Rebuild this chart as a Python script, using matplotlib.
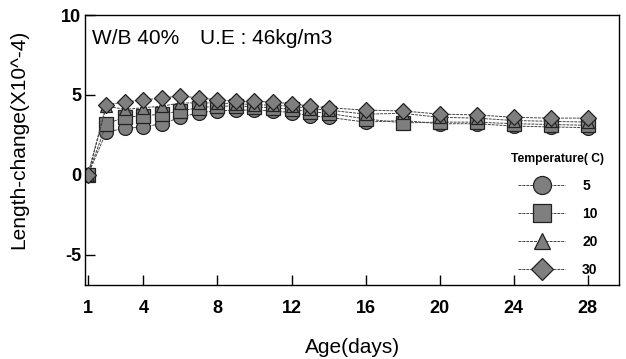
import matplotlib.pyplot as plt

plt.rcParams['font.family'] = ['Liberation Sans', 'DejaVu Sans']
plt.rcParams['axes.unicode_minus'] = False

days = [1, 2, 3, 4, 5, 6, 7, 8, 9, 10, 11, 12, 13, 14, 16, 18, 20, 22, 24, 26, 28]
t5 = [0, 2.7, 2.9, 3.0, 3.2, 3.6, 3.9, 4.0, 4.05, 4.05, 4.0, 3.9, 3.7, 3.6,
      3.3, 3.4, 3.2, 3.2, 3.05, 3.0, 2.95]
t10 = [0, 3.2, 3.6, 3.7, 3.8, 4.0, 4.2, 4.3, 4.3, 4.25, 4.2, 4.1, 3.95, 3.85,
       3.5, 3.25, 3.3, 3.3, 3.2, 3.15, 3.1]
t20 = [0, 4.3, 4.1, 4.2, 4.3, 4.5, 4.5, 4.5, 4.45, 4.4, 4.35, 4.3, 4.15, 4.05,
       3.8, 3.85, 3.6, 3.55, 3.4, 3.35, 3.3]
t30 = [0, 4.4, 4.55, 4.7, 4.8, 4.95, 4.8, 4.7, 4.6, 4.6, 4.55, 4.45, 4.3, 4.2,
       4.05, 4.0, 3.8, 3.75, 3.6, 3.55, 3.55]
labels = ['5', '10', '20', '30']
markers = ['o', 's', '^', 'D']
xticks = [1, 4, 8, 12, 16, 20, 24, 28]
yticks = [-5, 0, 5, 10]

fig = plt.figure(figsize=(6.26, 3.59), dpi=100)
ax = fig.add_axes([0.136, 0.206, 0.853, 0.752])

sizes = [10, 10, 8.5, 8.5]
for ys, lab, m, ms in zip([t5, t10, t20, t30], labels, markers, sizes):
    ax.plot(days, ys, marker=m, markersize=ms, color='#444444', linewidth=0.7,
            linestyle=(0, (3, 1)), markerfacecolor='#7f7f7f',
            markeredgecolor='#222222', markeredgewidth=0.9, label=lab)

ax.set_xlim(0.85, 29.7)
ax.set_ylim(-6.9, 10)
ax.set_xticks(xticks)
ax.set_yticks(yticks)
ax.tick_params(direction='in', length=7, width=1, labelsize=13)
ax.tick_params(axis='x', pad=11)
ax.tick_params(axis='y', pad=3)
for t in ax.get_xticklabels() + ax.get_yticklabels():
    t.set_fontweight('bold')
for s in ax.spines.values():
    s.set_linewidth(1)

ax.set_xlabel('Age(days)', fontsize=15)
ax.set_ylabel('Length-change(X10^-4)', fontsize=15)
ax.xaxis.set_label_coords(0.5, -0.23)
ax.yaxis.set_label_coords(-0.125, 0.54)
ax.xaxis.label.set_va('center')
ax.yaxis.label.set_va('center')

ax.text(0.012, 0.915, 'W/B 40%', transform=ax.transAxes, fontsize=15, va='center')
ax.text(0.215, 0.915, 'U.E : 46kg/m3', transform=ax.transAxes, fontsize=15, va='center')

leg = ax.legend(loc='lower right', bbox_to_anchor=(0.988, 0.0), frameon=False,
                title='Temperature( C)', title_fontsize=8.7, fontsize=10,
                handlelength=3.4, labelspacing=1.0, handletextpad=1.2,
                markerscale=1.3, borderaxespad=0.2)
leg.get_title().set_fontweight('bold')
for t in leg.get_texts():
    t.set_fontweight('bold')

fig.savefig('out.png', dpi=100)
